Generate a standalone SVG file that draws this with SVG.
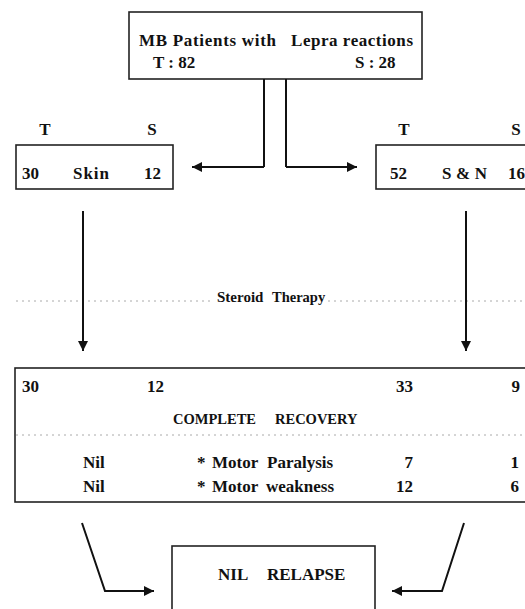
<svg xmlns="http://www.w3.org/2000/svg" width="525" height="609" viewBox="0 0 525 609">
<style>
text{font-family:"Liberation Serif","Times New Roman",serif;font-weight:bold;fill:#111;}
.t{font-size:17px;}
.box{fill:none;stroke:#222;stroke-width:1.6;}
.ln{fill:none;stroke:#111;stroke-width:2;}
.dash{stroke:#aaa;stroke-width:1;stroke-dasharray:2,4;}
</style>
<defs>
<marker id="ah" viewBox="0 0 10 10" refX="10" refY="5" markerWidth="12" markerHeight="10" markerUnits="userSpaceOnUse" orient="auto">
<path d="M0,0 L10,5 L0,10 Z" fill="#111"/>
</marker>
</defs>
<rect width="525" height="609" fill="#fff"/>
<g id="dashes">
<line class="dash" x1="16" y1="301" x2="214" y2="301"/>
<line class="dash" x1="328" y1="301" x2="525" y2="301"/>
</g>
<g id="top">
<rect class="box" x="129" y="12" width="293" height="67"/>
<text class="t" x="139" y="46" textLength="137" lengthAdjust="spacing">MB Patients with</text>
<text class="t" x="291" y="46" textLength="122" lengthAdjust="spacing">Lepra reactions</text>
<text class="t" x="153" y="68">T : 82</text>
<text class="t" x="355" y="68">S : 28</text>
</g>
<g id="skin">
<text class="t" x="45" y="135" text-anchor="middle">T</text>
<text class="t" x="152" y="135" text-anchor="middle">S</text>
<rect class="box" x="16" y="145" width="157" height="44"/>
<text class="t" x="22" y="179">30</text>
<text class="t" x="73" y="179" textLength="36" lengthAdjust="spacing">Skin</text>
<text class="t" x="144" y="179">12</text>
</g>
<g id="sn">
<text class="t" x="404" y="135" text-anchor="middle">T</text>
<text class="t" x="516" y="135" text-anchor="middle">S</text>
<rect class="box" x="376" y="145" width="160" height="44"/>
<text class="t" x="390" y="179">52</text>
<text class="t" x="442" y="179" textLength="45" lengthAdjust="spacing">S &amp; N</text>
<text class="t" x="508" y="179">16</text>
</g>
<g id="steroid">
<text x="217" y="302" font-size="15">Steroid</text>
<text x="272" y="302" font-size="14.5">Therapy</text>
</g>
<g id="recovery">
<rect class="box" x="15" y="368" width="520" height="134"/>
<text class="t" x="22" y="392">30</text>
<text class="t" x="147" y="392">12</text>
<text class="t" x="413" y="392" text-anchor="end">33</text>
<text class="t" x="520" y="392" text-anchor="end">9</text>
<text x="173" y="424" font-size="14.5">COMPLETE</text>
<text x="275" y="424" font-size="14.5">RECOVERY</text>
<line class="dash" x1="16" y1="435" x2="525" y2="435"/>
<text class="t" x="83" y="468">Nil</text>
<text class="t" x="197" y="468">*</text>
<text class="t" x="212" y="468">Motor</text>
<text class="t" x="267" y="468">Paralysis</text>
<text class="t" x="413" y="468" text-anchor="end">7</text>
<text class="t" x="519" y="468" text-anchor="end">1</text>
<text class="t" x="83" y="492">Nil</text>
<text class="t" x="197" y="492">*</text>
<text class="t" x="212" y="492">Motor</text>
<text class="t" x="266" y="492">weakness</text>
<text class="t" x="413" y="492" text-anchor="end">12</text>
<text class="t" x="519" y="492" text-anchor="end">6</text>
</g>
<g id="relapse">
<rect class="box" x="172" y="546" width="203" height="80"/>
<text class="t" x="218" y="580">NIL</text>
<text class="t" x="267" y="580">RELAPSE</text>
</g>
<g id="connectors">
<line class="ln" x1="264" y1="79" x2="264" y2="167"/>
<line class="ln" x1="286" y1="79" x2="286" y2="167"/>
<line class="ln" x1="264" y1="167" x2="192" y2="167" marker-end="url(#ah)"/>
<line class="ln" x1="286" y1="167" x2="357" y2="167" marker-end="url(#ah)"/>
<line class="ln" x1="83" y1="211" x2="83" y2="351" marker-end="url(#ah)"/>
<line class="ln" x1="466" y1="211" x2="466" y2="351" marker-end="url(#ah)"/>
<polyline class="ln" points="82,523 105,591 154,591" marker-end="url(#ah)"/>
<polyline class="ln" points="464,523 442,591 392,591" marker-end="url(#ah)"/>
</g>
</svg>
